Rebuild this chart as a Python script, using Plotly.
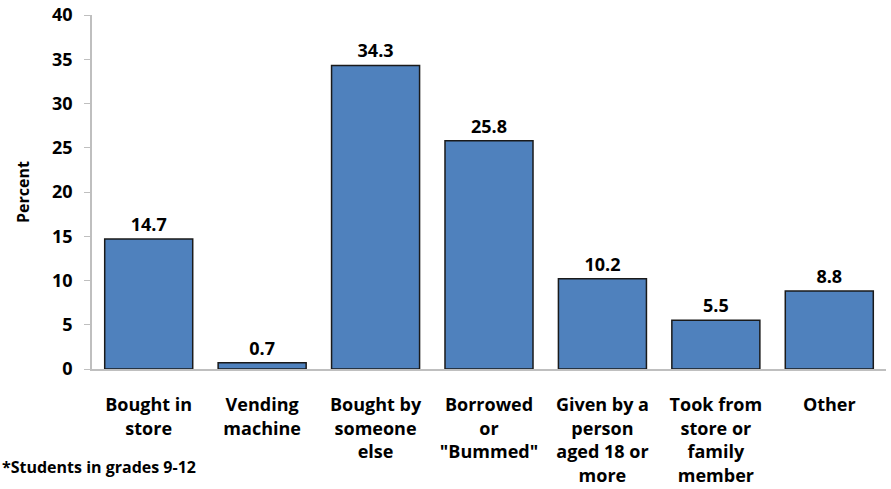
import plotly.graph_objects as go

# Where students got their cigarettes (percent)
categories = [
    "Bought in<br>store",
    "Vending<br>machine",
    "Bought by<br>someone<br>else",
    "Borrowed<br>or<br>\"Bummed\"",
    "Given by a<br>person<br>aged 18 or<br>more",
    "Took from<br>store or<br>family<br>member",
    "Other",
]
percent = [14.7, 0.7, 34.3, 25.8, 10.2, 5.5, 8.8]
y_ticks = [0, 5, 10, 15, 20, 25, 30, 35, 40]

FONT = "Open Sans"
BAR = "#4F81BD"

fig = go.Figure(
    go.Bar(
        x=list(range(len(categories))),
        y=percent,
        text=[f"{v:.1f}" for v in percent],
        textposition="outside",
        textfont=dict(family=FONT, size=18, color="#000000", weight="bold"),
        marker=dict(color=BAR, line=dict(color="#1a1a1a", width=1.5)),
        cliponaxis=False,
    )
)

fig.update_layout(
    width=891,
    height=489,
    margin=dict(l=92, r=5, t=15, b=120),
    paper_bgcolor="white",
    plot_bgcolor="white",
    bargap=0.224,
    showlegend=False,
    font=dict(family=FONT, size=18, color="#000000"),
    xaxis=dict(
        tickmode="array",
        tickvals=list(range(len(categories))),
        ticktext=categories,
        range=[-0.5, len(categories) - 0.5],
        automargin=False,
        showline=True,
        linecolor="#BFBFBF",
        linewidth=1.5,
        ticks="",
        ticklabelstandoff=19,
        tickfont=dict(family=FONT, size=18, color="#000000", weight="bold"),
        showgrid=False,
        zeroline=False,
    ),
    yaxis=dict(
        range=[0, 40],
        tickmode="array",
        tickvals=y_ticks,
        automargin=False,
        showline=True,
        linecolor="#BFBFBF",
        linewidth=1.5,
        ticks="outside",
        ticklen=6,
        tickcolor="#BFBFBF",
        ticklabelstandoff=8,
        tickfont=dict(family=FONT, size=18, color="#000000", weight="bold"),
        showgrid=False,
        zeroline=False,
        title=dict(
            text="Percent",
            font=dict(family=FONT, size=16, color="#000000", weight="bold"),
            standoff=18,
        ),
    ),
    annotations=[
        dict(
            text="*Students in grades 9-12",
            xref="paper",
            yref="paper",
            x=-92 / 794,
            y=-(467 - 369) / 354,
            xanchor="left",
            yanchor="middle",
            showarrow=False,
            font=dict(family=FONT, size=16, color="#000000", weight="bold"),
        )
    ],
)

fig.write_html("out.html")
